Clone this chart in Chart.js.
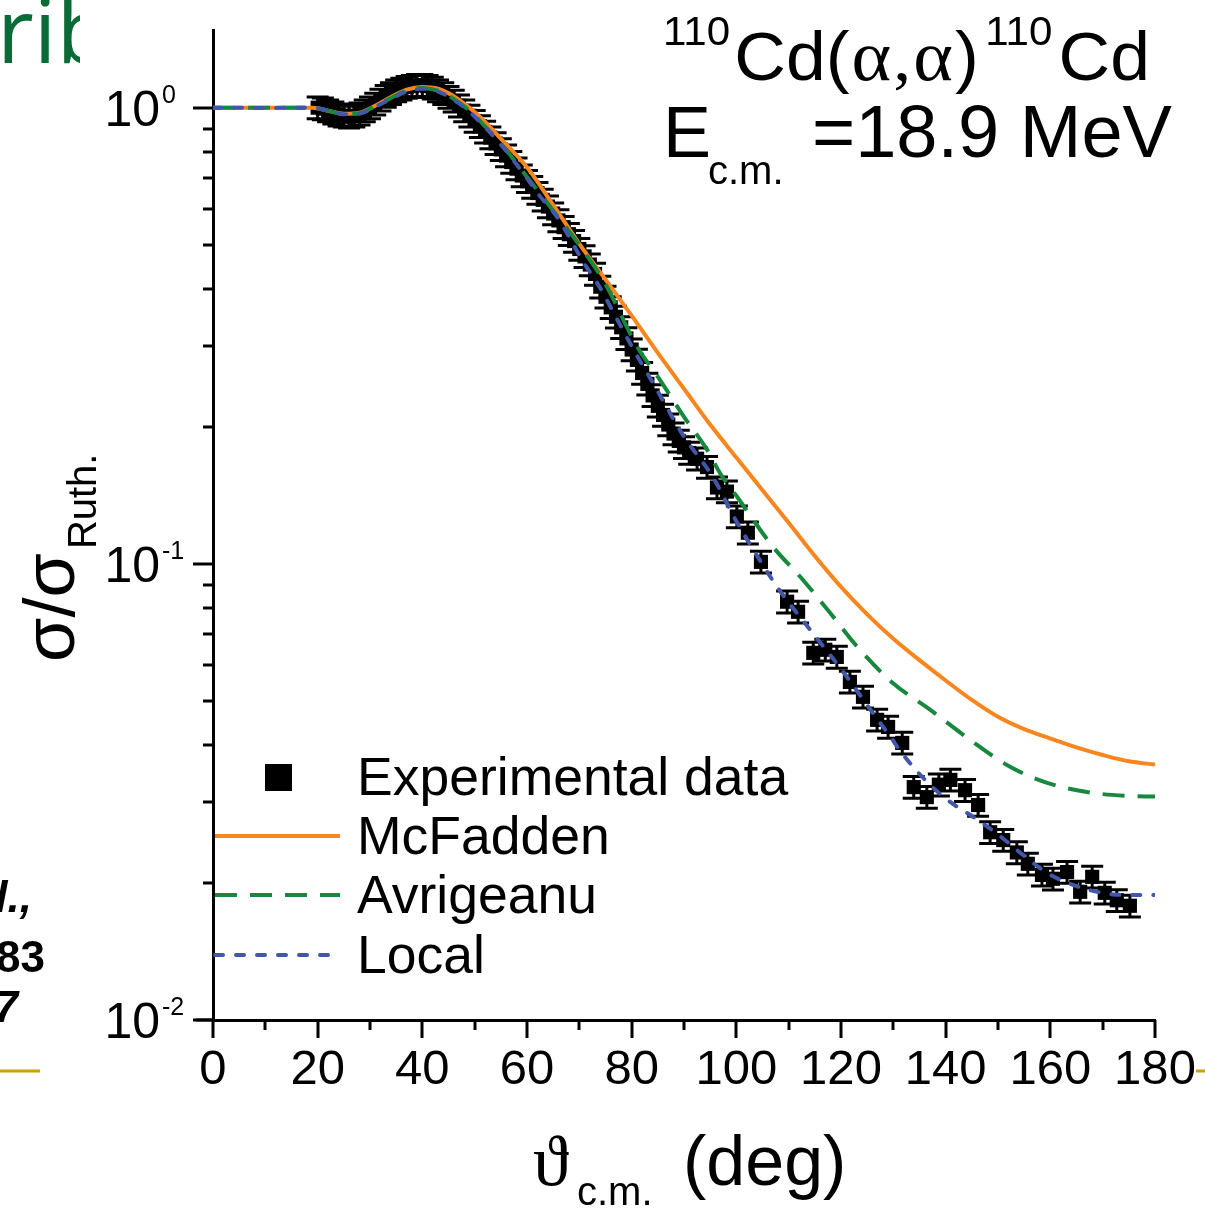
<!DOCTYPE html>
<html>
<head>
<meta charset="utf-8">
<script src="https://cdn.jsdelivr.net/npm/chart.js@4.4.1/dist/chart.umd.min.js"></script>
<style>
html,body{margin:0;padding:0;background:#fff;}
#wrap{width:1205px;height:1214px;}
</style>
</head>
<body>
<div id="wrap"><canvas id="chart" width="1205" height="1214"></canvas></div>
<script>
// experimental points (deg, sigma/sigma_Ruth)
const expAngle = [20,21,22,23,24,25,26,27,28,29,30,31,32,33,34,35,36,37,38,39,40,41,42,43,44,45,46,47,48,49,50,
  51,52,53,54,55,56,57,58,59,60,61,62,63,64,65,66,67,68,69,70,71,72,73,74,75,76,77,78,79,80,81,82,83,84,85,86,87,88,89,90,91,
  92.5,94.4,96.3,98.2,100.1,102.2,104.7,109.7,111.8,114.7,117,119.2,121.7,124.2,126.9,129,131.7,133.9,136.4,138.7,140.9,
  143.7,146.2,148.5,151,153.6,155.7,158.4,160.5,163.2,165.7,168,170.4,172.7,175.2];
const expValue = [1.00,0.995,0.985,0.975,0.965,0.96,0.955,0.96,0.97,0.985,1.00,1.02,1.04,1.06,1.075,1.09,1.10,1.11,1.115,1.12,1.12,
  1.115,1.105,1.09,1.075,1.055,1.035,1.01,0.985,0.96,0.935,
  0.91,0.885,0.86,0.835,0.81,0.785,0.76,0.735,0.71,0.69,0.67,0.65,0.628,0.607,0.586,0.566,0.547,0.528,0.51,0.49,
  0.472,0.453,0.432,0.405,0.385,0.365,0.348,0.33,0.312,0.295,0.28,0.262,0.248,0.234,0.222,0.212,0.202,0.193,0.186,0.18,0.175,
  0.170,0.163,0.147,0.144,0.127,0.117,0.101,0.0826,0.0785,0.0638,0.0648,0.0625,0.0551,0.0511,0.0455,0.0439,0.0405,0.0324,0.0308,0.0328,0.0336,
  0.0319,0.0296,0.0258,0.0248,0.0233,0.022,0.0208,0.0204,0.0211,0.0191,0.0206,0.019,0.0183,0.0178];
const expErrPct = 5.5;

// optical model curves
const mcfAngle = [0,5,10,15,19,22,25,28,31,34,37,40,43,46,49,51,55,60,65,70,75,80,85,90,95,100,105,110,115,120,125,130,135,140,145,150,155,160,165,170,175,180];
const mcfValue = [1.0,1.0,1.0,1.0,1.0,0.985,0.97,0.975,1.01,1.055,1.095,1.11,1.10,1.06,1.0,0.955,0.855,0.74,0.612,0.503,0.42,0.35,0.29,0.242,0.202,0.171,0.145,0.123,0.104,0.089,0.0775,0.0685,0.0615,0.0555,0.0503,0.0462,0.0434,0.0414,0.0396,0.0381,0.0369,0.0363];

const avrAngle = [0,5,10,15,19,22,25,28,31,34,37,40,43,46,49,51,55,60,66,70,75,81,85.4,90,94.4,96.9,100,107,112.7,117.9,123.1,129.9,137,144.7,152.3,159.4,167,174.3,180];
const avrValue = [1.0,1.0,1.0,1.0,1.0,0.985,0.968,0.972,1.008,1.05,1.09,1.105,1.09,1.045,0.985,0.935,0.835,0.705,0.575,0.50,0.41,0.30,0.253,0.21,0.178,0.158,0.141,0.109,0.0923,0.0781,0.0658,0.0548,0.0479,0.0411,0.0359,0.0331,0.0316,0.031,0.0309];

const locAngle = [0,5,10,15,19,22,25,28,31,34,37,40,43,46,49,51,55,60,62,66,70.8,73.4,77.8,80,84.8,90,95.5,100,104.7,107.8,114.1,120.4,125,129.4,132,136.4,140.8,145.2,150,154.8,159.4,164.2,168.9,173.9,180];
const locValue = [1.0,1.0,0.998,1.0,1.0,0.985,0.967,0.97,1.005,1.045,1.085,1.10,1.085,1.04,0.98,0.93,0.83,0.70,0.65,0.57,0.458,0.413,0.334,0.30,0.241,0.19,0.155,0.124,0.101,0.089,0.0717,0.058,0.049,0.0418,0.038,0.0333,0.0301,0.0279,0.0255,0.023,0.021,0.0198,0.0191,0.0188,0.0188];

const seriesNames = ['Experimental data','McFadden','Avrigeanu','Local'];
const yTickValues = [0.01, 0.1, 1];
const yTickExps = ['-2', '-1', '0'];

const SANS = "'Liberation Sans', Arial, Helvetica, sans-serif";
const SERIF = "'Liberation Serif', 'DejaVu Serif', serif";

const pts = (xs, ys) => xs.map((v, i) => ({x: v, y: ys[i]}));

const errorBars = {
  id: 'errorBars',
  beforeDatasetsDraw(chart) {
    const {ctx, scales: {x, y}} = chart;
    ctx.save();
    ctx.strokeStyle = '#000';
    ctx.lineWidth = 3;
    expAngle.forEach((a, i) => {
      const px = x.getPixelForValue(a);
      const hi = y.getPixelForValue(expValue[i] * (1 + expErrPct / 100));
      const lo = y.getPixelForValue(expValue[i] * (1 - expErrPct / 100));
      ctx.beginPath();
      ctx.moveTo(px, hi); ctx.lineTo(px, lo);
      ctx.moveTo(px - 11, hi); ctx.lineTo(px + 11, hi);
      ctx.moveTo(px - 11, lo); ctx.lineTo(px + 11, lo);
      ctx.stroke();
    });
    ctx.restore();
  }
};

function setFont(ctx, size, family, style) {
  ctx.font = (style || '') + ' ' + size + 'px ' + family;
}

function txt(ctx, s, x, y, size, family, opts) {
  opts = opts || {};
  setFont(ctx, size, family, opts.style);
  ctx.textAlign = opts.align || 'left';
  ctx.textBaseline = 'alphabetic';
  ctx.fillStyle = opts.color || '#000';
  ctx.fillText(s, x, y);
  return ctx.measureText(s).width;
}

// pieces of a formula drawn one after another, squeezed to a given width
function chain(ctx, parts, x0, x1, base) {
  let total = 0;
  parts.forEach(p => { setFont(ctx, p.size, p.family); total += ctx.measureText(p.s).width + (p.gap || 0); });
  const sx = (x1 - x0) / total;
  ctx.save();
  ctx.translate(x0, 0);
  ctx.scale(sx, 1);
  let cx = 0;
  parts.forEach(p => {
    const w = txt(ctx, p.s, cx, base + (p.dy || 0), p.size, p.family);
    cx += w + (p.gap || 0);
  });
  ctx.restore();
}

const deco = {
  id: 'deco',
  afterDraw(chart) {
    const {ctx, scales: {x, y}, chartArea: a} = chart;
    ctx.save();
    ctx.strokeStyle = '#000';
    ctx.lineWidth = 3;
    // y ticks (major + minor), outward
    yTickValues.forEach(d => {
      for (let m = 1; m <= 9; m++) {
        const v = d * m;
        if (v > y.max) break;
        const py = Math.round(y.getPixelForValue(v));
        const len = m === 1 ? 20 : 10;
        ctx.beginPath(); ctx.moveTo(a.left - len, py); ctx.lineTo(a.left, py); ctx.stroke();
      }
    });
    // x ticks
    for (let d = x.min; d <= x.max; d += 10) {
      const px = Math.round(x.getPixelForValue(d));
      const len = d % 20 === 0 ? 18 : 10;
      ctx.beginPath(); ctx.moveTo(px, a.bottom); ctx.lineTo(px, a.bottom + len); ctx.stroke();
    }
    ctx.beginPath(); ctx.moveTo(196, a.bottom); ctx.lineTo(a.left, a.bottom); ctx.stroke();

    // y tick labels 10^n
    yTickValues.forEach((v, i) => {
      const py = y.getPixelForValue(v);
      txt(ctx, '10', 160, py + 18, 50, SANS, {align: 'right'});
      txt(ctx, yTickExps[i], 162, py - 5, 25, SANS);
    });

    // y title
    ctx.save();
    ctx.translate(74, 662);
    ctx.rotate(-Math.PI / 2);
    const w = txt(ctx, 'σ/σ', 0, 0, 72, SANS);
    txt(ctx, 'Ruth.', w + 4, 22, 40, SANS);
    ctx.restore();

    // x title
    txt(ctx, 'ϑ', 533, 1185, 72, SERIF);
    txt(ctx, 'c.m.', 577, 1205, 40, SANS);
    txt(ctx, '(deg)', 683, 1185, 70, SANS);

    // reaction label
    chain(ctx, [
      {s: '110', size: 40, family: SANS, dy: -35, gap: 4},
      {s: 'Cd', size: 68, family: SANS},
      {s: '(', size: 68, family: SANS, gap: 2},
      {s: 'α', size: 72, family: SERIF, gap: 2},
      {s: ',', size: 68, family: SERIF, gap: 2},
      {s: 'α', size: 72, family: SERIF, gap: 2},
      {s: ')', size: 68, family: SANS, gap: 6},
      {s: '110', size: 40, family: SANS, dy: -35, gap: 6},
      {s: 'Cd', size: 68, family: SANS}
    ], 663, 1150, 80);
    txt(ctx, 'E', 663, 157, 72, SANS);
    txt(ctx, 'c.m.', 708, 184, 40, SANS);
    txt(ctx, '=18.9 MeV', 812, 157, 74, SANS);

    // legend
    const rows = [777, 836, 895, 955];
    chart.data.datasets.forEach((ds, i) => {
      const ry = rows[i];
      if (i === 0) {
        ctx.fillStyle = ds.backgroundColor;
        ctx.fillRect(265, ry - 13, 27, 27);
      } else {
        ctx.save();
        ctx.strokeStyle = ds.borderColor;
        ctx.lineWidth = ds.borderWidth;
        ctx.setLineDash(ds.borderDash || []);
        ctx.lineCap = ds.borderCapStyle || 'butt';
        ctx.beginPath(); ctx.moveTo(215, ry); ctx.lineTo(340, ry); ctx.stroke();
        ctx.restore();
      }
      txt(ctx, ds.label, 357, ry + 18, 53.5, SANS);
    });

    // slide fragments around the figure
    ctx.save();
    ctx.beginPath(); ctx.rect(0, 0, 80, 80); ctx.clip();
    txt(ctx, 'rib', -3, 63, 90, "'Open Sans', sans-serif", {color: '#0b6b37'});
    ctx.restore();
    txt(ctx, 'al.,', 32, 912, 44, SANS, {style: 'italic bold', align: 'right'});
    txt(ctx, '183', 45, 972, 44, SANS, {style: 'bold', align: 'right'});
    txt(ctx, '97', 18, 1022, 44, SANS, {style: 'italic bold', align: 'right'});
    ctx.strokeStyle = '#c9a10a';
    ctx.lineWidth = 3;
    ctx.beginPath(); ctx.moveTo(0, 1071); ctx.lineTo(40, 1071); ctx.stroke();
    ctx.beginPath(); ctx.moveTo(1196, 1071); ctx.lineTo(1205, 1071); ctx.stroke();
    ctx.restore();
  }
};

new Chart(document.getElementById('chart'), {
  type: 'line',
  data: {
    datasets: [
      {label: seriesNames[0], data: pts(expAngle, expValue), showLine: false, pointStyle: 'rect',
        pointRadius: 10, backgroundColor: '#000', borderColor: '#000', borderWidth: 0, order: 4},
      {label: seriesNames[1], data: pts(mcfAngle, mcfValue), borderColor: '#f7861f', borderWidth: 4,
        pointRadius: 0, cubicInterpolationMode: 'monotone', order: 3},
      {label: seriesNames[2], data: pts(avrAngle, avrValue), borderColor: '#17883d', borderWidth: 4,
        borderDash: [22, 13], pointRadius: 0, cubicInterpolationMode: 'monotone', order: 2},
      {label: seriesNames[3], data: pts(locAngle, locValue), borderColor: '#4257a8', borderWidth: 4,
        borderDash: [8, 13], borderCapStyle: 'round', pointRadius: 0, cubicInterpolationMode: 'monotone', order: 1}
    ]
  },
  options: {
    responsive: false,
    animation: false,
    events: [],
    devicePixelRatio: 1,
    layout: {padding: {top: 30, right: 50, left: 0, bottom: 0}},
    plugins: {legend: {display: false}, tooltip: {enabled: false}},
    scales: {
      x: {
        type: 'linear', min: 0, max: 180,
        ticks: {stepSize: 20, color: '#000', font: {size: 49, family: SANS}, padding: 21, maxRotation: 0, autoSkip: false},
        grid: {display: false, drawTicks: false},
        border: {display: true, color: '#000', width: 3},
        afterFit: s => { s.height = 194; s.paddingLeft = 0; s.paddingRight = 0; }
      },
      y: {
        type: 'logarithmic', min: 0.01, max: 1.48,
        ticks: {display: false},
        grid: {display: false, drawTicks: false},
        border: {display: true, color: '#000', width: 3},
        afterFit: s => { s.width = 213; }
      }
    }
  },
  plugins: [errorBars, deco]
});
</script>
</body>
</html>
